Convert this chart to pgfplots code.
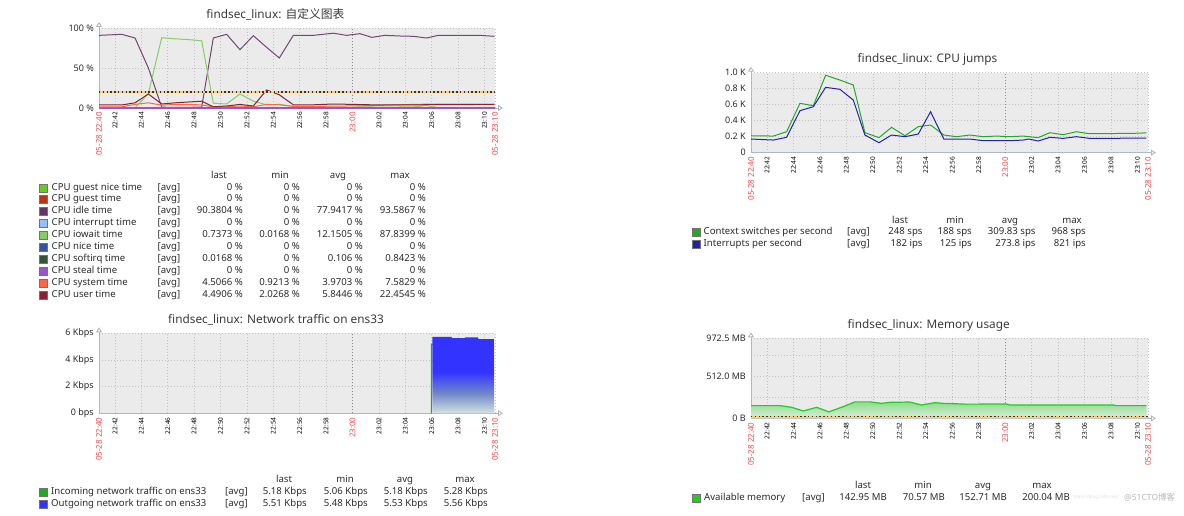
\documentclass[border=0pt]{standalone}
\usepackage{fontspec}
\setmainfont{Noto Sans}
\newfontfamily\cjk{Noto Sans CJK SC}
\usepackage{pgfplots}
\pgfplotsset{compat=1.18}
\usetikzlibrary{arrows.meta}

\definecolor{bgc}{HTML}{EBEBEB}
\definecolor{gridc}{HTML}{C2C2C2}
\definecolor{axc}{HTML}{AEB8C2}
\definecolor{zred}{HTML}{EE4B4B}
\definecolor{txt}{HTML}{2A2A2A}
\definecolor{ttl}{HTML}{3A3A3A}
\definecolor{cgn}{HTML}{66CC22}
\definecolor{cgu}{HTML}{BB3311}
\definecolor{cid}{HTML}{663366}
\definecolor{cidl}{HTML}{734673}
\definecolor{cin}{HTML}{99BBFF}
\definecolor{cio}{HTML}{88CC66}
\definecolor{cni}{HTML}{335599}
\definecolor{cso}{HTML}{335533}
\definecolor{cst}{HTML}{9955CC}
\definecolor{csy}{HTML}{FF6644}
\definecolor{cus}{HTML}{882233}
\definecolor{ccs}{HTML}{22AA22}
\definecolor{cir}{HTML}{2222AA}
\definecolor{cinc}{HTML}{22AA22}
\definecolor{cout}{HTML}{3333FF}
\definecolor{nblue}{HTML}{3333FF}
\definecolor{nmid}{HTML}{7088C8}
\definecolor{nbot}{HTML}{D6E2E2}
\definecolor{cmem}{HTML}{22CC22}
\definecolor{memtop}{HTML}{8EDC8E}
\definecolor{membot}{HTML}{DDEEDD}
\definecolor{trigy}{HTML}{FFCC77}

\pgfdeclareverticalshading{netshade}{100bp}{color(0bp)=(nbot); color(25bp)=(nbot); color(38bp)=(nmid); color(52bp)=(nblue); color(100bp)=(nblue)}

\pgfplotsset{
  zbx/.style={
    scale only axis, width=396pt, height=80pt,
    xmin=0, xmax=30,
    axis background/.style={fill=bgc},
    axis lines*=left,
    axis line style={draw=axc, line width=0.9pt},
    x axis line style={-{Triangle[open,length=5pt,width=6pt]}, shorten >=-8pt},
    y axis line style={-{Triangle[open,length=5pt,width=6pt]}, shorten >=-6pt},
    tick style={draw=none},
    grid=major,
    major grid style={draw=gridc, line width=0.7pt, dash pattern=on 1pt off 2pt},
    xtick={0,1.21,3.21,5.21,7.21,9.21,11.21,13.21,15.21,17.21,19.21,21.21,23.21,25.21,27.21,29.21,30},
    xticklabels={\textcolor{zred}{\fontsize{8}{9}\selectfont 05-28 22:40},22:42,22:44,22:46,22:48,22:50,22:52,22:54,22:56,22:58,\textcolor{zred}{\fontsize{8}{9}\selectfont 23:00},23:02,23:04,23:06,23:08,23:10,\textcolor{zred}{\fontsize{8}{9}\selectfont 05-28 23:10}},
    xticklabel style={rotate=90, anchor=east, inner sep=0pt, font=\fontsize{6.5}{7}\selectfont, text=black},
    xticklabel shift=4pt,
    yticklabel style={anchor=east, inner sep=0pt, font=\fontsize{9}{10}\selectfont, text=txt},
    yticklabel shift=5pt,
    extra x ticks={19.21},
    extra x tick labels={},
    extra x tick style={major grid style={draw=black!45, line width=0.7pt, dash pattern=on 1pt off 2pt}},
  }
}

\tikzset{
  lg/.style={inner sep=0pt, font=\fontsize{9.6}{11}\selectfont, text=txt, text height=7pt, text depth=2pt},
  ttlst/.style={inner sep=0pt, font=\fontsize{11.8}{13}\selectfont, text=ttl},
}

\newcommand\lrow[7]{%
  \filldraw[fill=#2, draw=black!55, line width=0.35pt] ({\cSq-4},{#1-4}) rectangle ({\cSq+4},{#1+4});
  \node[lg, anchor=west] at (\cNm,#1) {#3};
  \node[lg, anchor=west] at (\cAv,#1) {[avg]};
  \node[lg, anchor=east] at (\cLa,#1) {#4};
  \node[lg, anchor=east] at (\cMi,#1) {#5};
  \node[lg, anchor=east] at (\cAg,#1) {#6};
  \node[lg, anchor=east] at (\cMa,#1) {#7};
}
\newcommand\lhead[5]{%
  \node[lg] at (#2,#1) {last};
  \node[lg] at (#3,#1) {min};
  \node[lg] at (#4,#1) {avg};
  \node[lg] at (#5,#1) {max};
}

\begin{document}
\begin{tikzpicture}
\path[use as bounding box] (0pt,0pt) rectangle (1184pt,515pt);

%================ Panel 1: CPU custom graph
\begin{axis}[zbx, at={(99pt,407pt)}, anchor=south west, clip=false,
  ymin=0, ymax=100, ytick={0,50,100}, yticklabels={0 \%,50 \%,100 \%}]
\addplot[cidl, line width=1pt] coordinates {
 (0,90.8) (1.72,92.1) (2.73,87.5) (3.74,50) (4.75,1) (5.76,0.8) (6.77,0.8) (7.78,1.2)
 (8.66,87.5) (9.67,92.1) (10.68,72.9) (11.69,90.4) (12.7,75.8) (13.66,62.5) (14.72,90.8)
 (16.24,90.8) (17.75,93.5) (18.76,90.8) (19.77,92.9) (20.66,88.3) (21.67,90.8) (22.8,90)
 (23.81,89.6) (24.82,87.5) (25.7,90.8) (28.86,90.8) (29.95,89.6)};
\addplot[cio, line width=1pt] coordinates {
 (0,0.3) (1.72,0.3) (2.73,0.3) (3.74,18) (4.75,87.8) (5.76,86.5) (6.77,85.5) (7.78,84)
 (8.66,6) (9.67,5) (10.68,17.5) (11.69,8.5) (12.7,4) (13.66,4.5) (14.72,2) (16.24,1.5)
 (18.76,0.5) (19.77,1.5) (21.67,1) (23.81,1.5) (24.82,3) (25.7,0.5) (29.95,0.7)};
\addplot[cst, line width=1.3pt] coordinates {(0,0) (30,0)};
\addplot[csy, line width=1pt] coordinates {
 (0,1.5) (1.72,1.5) (2.73,4.5) (3.74,6.5) (4.75,3.5) (5.76,4.5) (6.77,4.2) (7.78,4)
 (8.66,1.2) (9.67,1.5) (10.68,2.5) (11.69,1.5) (12.7,4.5) (13.66,4) (14.72,2) (16.24,2)
 (18.76,2.5) (20.66,3) (23.81,4.5) (25.7,5) (29.95,4.5)};
\addplot[cus, line width=1pt] coordinates {
 (0,3.75) (1.72,3.75) (2.73,6.5) (3.74,17.5) (4.75,5) (5.76,6.5) (6.77,7.5) (7.78,8.5)
 (8.66,1.5) (9.67,2.5) (10.68,4.5) (11.69,2.5) (12.7,22.5) (13.66,16.5) (14.72,4)
 (16.24,4) (17.75,5) (20.66,4) (23.81,4) (29.95,4.5)};
\addplot[trigy, line width=2.6pt] coordinates {(0,20) (30,20)};
\addplot[black!80, line width=1.1pt, dash pattern=on 1.4pt off 2.4pt] coordinates {(0,20) (30,20)};
\end{axis}

%================ Panel 2: Network traffic
\begin{axis}[zbx, at={(99pt,101.7pt)}, anchor=south west,
  ymin=0, ymax=6, ytick={0,2,4,6}, yticklabels={0 bps,2 Kbps,4 Kbps,6 Kbps}]
\addplot[cinc, line width=1pt] coordinates {(25.18,0) (25.18,5.18) (26.7,5.06) (28,5.28) (29.9,5.18)};
\addplot[draw=none, shading=netshade, shade] coordinates {
 (25.25,5.74) (26.7,5.74) (26.75,5.63) (27.7,5.63) (27.75,5.7) (28.7,5.7) (28.75,5.57) (29.92,5.57)} \closedcycle;
\end{axis}

%================ Panel 3: CPU jumps
\begin{axis}[zbx, width=397pt, at={(751pt,362.3pt)}, anchor=south west,
  ymin=0, ymax=1000, ytick={0,200,400,600,800,1000},
  yticklabels={0,0.2 K,0.4 K,0.6 K,0.8 K,1.0 K}]
\addplot[ccs, line width=1pt] coordinates {
 (0,212) (1.69,208) (2.69,262) (3.7,617) (4.71,588) (5.64,968) (6.72,908) (7.73,846)
 (8.61,250) (9.67,188) (10.62,317) (11.63,212) (12.64,325) (13.57,346) (14.57,221)
 (15.53,200) (16.54,221) (17.54,200) (18.55,208) (19.56,200) (20.56,208) (21.7,188)
 (22.58,250) (23.58,225) (24.59,262) (25.6,237) (28.87,242) (29.88,248)};
\addplot[cir, line width=1pt] coordinates {
 (0,171) (1.69,158) (2.69,192) (3.7,525) (4.71,575) (5.64,817) (6.72,792) (7.73,658)
 (8.61,221) (9.67,125) (10.62,221) (11.63,200) (12.64,233) (13.57,512) (14.57,171)
 (16.54,171) (17.54,150) (19.56,150) (20.56,158) (21.0,171) (21.7,146) (22.58,192)
 (23.58,179) (24.59,200) (25.6,179) (29.88,182)};
\end{axis}

%================ Panel 4: Memory usage
\begin{axis}[zbx, width=397pt, at={(751pt,96.7pt)}, anchor=south west,
  ymin=0, ymax=972.5, ytick={0,512,972.5}, yticklabels={0 B,512.0 MB,972.5 MB},
  minor ytick={256,768}, grid=both,
  minor grid style={draw=gridc, line width=0.7pt, dash pattern=on 1pt off 2pt}]
\addplot[draw=none, top color=memtop, bottom color=membot] coordinates {
 (0,154) (2.19,154) (3.07,134) (3.95,89) (4.96,134) (5.89,78) (6.97,142) (7.85,200)
 (8.99,200) (9.87,182) (10.5,194) (12,198) (12.89,162) (13.89,190) (14.52,182)
 (16.28,172) (19.3,174) (19.56,162) (27.36,162) (27.61,154) (29.88,154)} \closedcycle;
\addplot[cmem, line width=1.2pt] coordinates {
 (0,154) (2.19,154) (3.07,134) (3.95,89) (4.96,134) (5.89,78) (6.97,142) (7.85,200)
 (8.99,200) (9.87,182) (10.5,194) (12,198) (12.89,162) (13.89,190) (14.52,182)
 (16.28,172) (19.3,174) (19.56,162) (27.36,162) (27.61,154) (29.88,154)};
\addplot[trigy, line width=2.4pt] coordinates {(0,16) (30,16)};
\addplot[black!80, line width=1pt, dash pattern=on 1.4pt off 2.4pt] coordinates {(0,16) (30,16)};
\end{axis}

\begin{scope}[x=1pt,y=1pt]
%================ Titles
\node[ttlst] at (275.5,501) {findsec\_linux: {\cjk 自定义图表}};
\node[ttlst] at (276,195) {findsec\_linux: Network traffic on ens33};
\node[ttlst] at (927.5,455.7) {findsec\_linux: CPU jumps};
\node[ttlst] at (928.7,190) {findsec\_linux: Memory usage};

%================ Legend panel 1
\def\cSq{43}\def\cNm{51.5}\def\cAv{157.5}\def\cLa{243}\def\cMi{300}\def\cAg{363}\def\cMa{426}
\lhead{339}{219}{280}{338}{400}
\lrow{326.7}{cgn}{CPU guest nice time}{0 \%}{0 \%}{0 \%}{0 \%}
\lrow{315.7}{cgu}{CPU guest time}{0 \%}{0 \%}{0 \%}{0 \%}
\lrow{304.0}{cid}{CPU idle time}{90.3804 \%}{0 \%}{77.9417 \%}{93.5867 \%}
\lrow{291.9}{cin}{CPU interrupt time}{0 \%}{0 \%}{0 \%}{0 \%}
\lrow{279.9}{cio}{CPU iowait time}{0.7373 \%}{0.0168 \%}{12.1505 \%}{87.8399 \%}
\lrow{268.0}{cni}{CPU nice time}{0 \%}{0 \%}{0 \%}{0 \%}
\lrow{256.1}{cso}{CPU softirq time}{0.0168 \%}{0 \%}{0.106 \%}{0.8423 \%}
\lrow{244.1}{cst}{CPU steal time}{0 \%}{0 \%}{0 \%}{0 \%}
\lrow{232.3}{csy}{CPU system time}{4.5066 \%}{0.9213 \%}{3.9703 \%}{7.5829 \%}
\lrow{220.3}{cus}{CPU user time}{4.4906 \%}{2.0268 \%}{5.8446 \%}{22.4545 \%}

%================ Legend panel 2
\def\cSq{43}\def\cNm{51}\def\cAv{225}\def\cLa{307}\def\cMi{368}\def\cAg{428}\def\cMa{488}
\lhead{35}{284}{345}{405}{465}
\lrow{23.3}{cinc}{Incoming network traffic on ens33}{5.18 Kbps}{5.06 Kbps}{5.18 Kbps}{5.28 Kbps}
\lrow{11.2}{cout}{Outgoing network traffic on ens33}{5.51 Kbps}{5.48 Kbps}{5.53 Kbps}{5.56 Kbps}

%================ Legend panel 3
\def\cSq{696}\def\cNm{703.5}\def\cAv{847}\def\cLa{922.7}\def\cMi{972}\def\cAg{1035.7}\def\cMa{1086}
\lhead{294.3}{900}{955}{1010}{1072}
\lrow{282.7}{ccs}{Context switches per second}{248 sps}{188 sps}{309.83 sps}{968 sps}
\lrow{271.3}{cir}{Interrupts per second}{182 ips}{125 ips}{273.8 ips}{821 ips}

%================ Legend panel 4
\def\cSq{696}\def\cNm{704}\def\cAv{802}\def\cLa{887}\def\cMi{945}\def\cAg{1007}\def\cMa{1070}
\lhead{29.3}{863}{923}{983}{1042}
\lrow{17.3}{cmem}{Available memory}{142.95 MB}{70.57 MB}{152.71 MB}{200.04 MB}

%================ Watermark (faint, as in the reference)
\node[inner sep=0pt, anchor=west, text=black!13, font=\fontsize{4.5}{5}\selectfont] at (1073,17.3) {https://blog.csdn.net/};
\node[inner sep=0pt, anchor=west, text=black!28, font=\fontsize{8.5}{10}\selectfont] at (1124,17.3) {@51CTO{\cjk 博客}};
\end{scope}
\end{tikzpicture}
\end{document}
